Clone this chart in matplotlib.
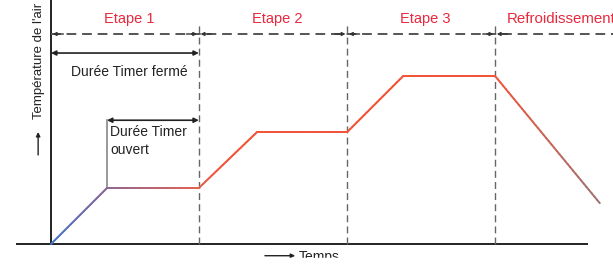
import numpy as np
import matplotlib.pyplot as plt
from matplotlib.collections import LineCollection
from matplotlib.patches import Rectangle

plt.rcParams['font.family'] = ['Liberation Sans', 'DejaVu Sans']

# schematic data (time units / temperature levels)
temps_t = [0, 1, 2.64, 3.68, 5.29, 6.29, 7.93, 9.8]
temps_v = [0, 1, 1, 2, 2, 3, 3, 0.73]
bounds = [0, 2.64, 5.29, 7.93]
etapes = ['Etape 1', 'Etape 2', 'Etape 3', 'Refroidissement']
# colour stops along time for the gradient line
grad_t = [0, 1, 2.64, 3.1, 7.93, 9.8]
grad_c = [(0.27, 0.47, 0.80), (0.55, 0.40, 0.58), (0.90, 0.38, 0.32),
          (0.95, 0.33, 0.22), (0.95, 0.33, 0.22), (0.62, 0.45, 0.45)]

fig = plt.figure(figsize=(6.13, 2.71), dpi=100)
ax = fig.add_axes([0, 0, 1, 1])
ax.set_xlim(-0.911, 10.036)
ax.set_ylim(-0.482, 4.357)
ax.axis('off')

dark = '#222222'
red = '#e8283c'

# axes lines
ax.plot([0, 0], [0, 4.36], color=dark, lw=1.4, solid_capstyle='butt')
ax.plot([-0.625, 9.59], [0, 0], color=dark, lw=1.4, solid_capstyle='butt')

# vertical dashed stage boundaries
for b in bounds[1:]:
    ax.plot([b, b], [0, 3.93], color='#666666', lw=1.0, ls=(0, (5, 3)))

# horizontal dashed line with arrows
yd = 3.75
ax.plot([0, 10.1], [yd, yd], color='#555555', lw=1.4, ls=(0, (5, 3)))
for i in range(len(bounds)):
    left = bounds[i]
    ax.annotate('', xy=(left + 0.03, yd), xytext=(left + 0.22, yd),
                arrowprops=dict(arrowstyle='-|>', color='#333333', lw=1.0,
                                mutation_scale=5, shrinkA=0, shrinkB=0))
    if i + 1 < len(bounds):
        right = bounds[i + 1]
        ax.annotate('', xy=(right - 0.03, yd), xytext=(right - 0.22, yd),
                    arrowprops=dict(arrowstyle='-|>', color='#333333', lw=1.0,
                                    mutation_scale=5, shrinkA=0, shrinkB=0))

# stage labels
for i, lab in enumerate(etapes):
    if i + 1 < len(bounds):
        ax.text((bounds[i] + bounds[i + 1]) / 2 + 0.08, 4.02, lab, color=red,
                fontsize=10.5, ha='center', va='center')
    else:
        ax.text(bounds[i] + 0.21, 4.02, lab, color=red, fontsize=10.8,
                ha='left', va='center')

# timer ferme arrow
ax.annotate('', xy=(bounds[1], 3.41), xytext=(0, 3.41),
            arrowprops=dict(arrowstyle='<|-|>', color=dark, lw=1.2,
                            mutation_scale=7, shrinkA=0, shrinkB=0))
ax.text(1.4, 3.08, 'Durée Timer fermé', color=dark, fontsize=10,
        ha='center', va='center')

# timer ouvert arrow
ax.plot([1, 1], [1, 2.21], color='#888888', lw=1.2)
ax.annotate('', xy=(bounds[1], 2.21), xytext=(1, 2.21),
            arrowprops=dict(arrowstyle='<|-|>', color=dark, lw=1.2,
                            mutation_scale=7, shrinkA=0, shrinkB=0))
ax.text(1.06, 2.13, 'Durée Timer\nouvert', color=dark, fontsize=10,
        ha='left', va='top', linespacing=1.35)

# temperature curve with colour gradient
xs, ys = [], []
for k in range(len(temps_t) - 1):
    seg_x = np.linspace(temps_t[k], temps_t[k + 1], 40)
    seg_y = np.linspace(temps_v[k], temps_v[k + 1], 40)
    xs.extend(seg_x if k == 0 else seg_x[1:])
    ys.extend(seg_y if k == 0 else seg_y[1:])
xs = np.array(xs)
ys = np.array(ys)
pts = np.column_stack([xs, ys]).reshape(-1, 1, 2)
segs = np.concatenate([pts[:-1], pts[1:]], axis=1)
mid = (xs[:-1] + xs[1:]) / 2
cols = np.column_stack([np.interp(mid, grad_t, [c[j] for c in grad_c]) for j in range(3)])
ax.add_collection(LineCollection(segs, colors=cols, linewidths=1.4, capstyle='round'))

# axis titles
ax.text(-0.22, 3.26, "Température de l'air", rotation=90, color=dark,
        fontsize=9.5, ha='center', va='center')
ax.annotate('', xy=(-0.23, 2.0), xytext=(-0.23, 1.59),
            arrowprops=dict(arrowstyle='-|>', color=dark, lw=1.0,
                            mutation_scale=6, shrinkA=0, shrinkB=0))
ax.annotate('', xy=(4.36, -0.209), xytext=(3.82, -0.209),
            arrowprops=dict(arrowstyle='-|>', color=dark, lw=1.0,
                            mutation_scale=6, shrinkA=0, shrinkB=0))
ax.text(4.42, -0.1, 'Temps', color=dark, fontsize=10, ha='left', va='top')

# the source picture is cut just under the "Temps" label
ax.add_patch(Rectangle((-1, -0.6), 12, 0.35, color='white', zorder=10))

fig.savefig('out.png', dpi=100)
